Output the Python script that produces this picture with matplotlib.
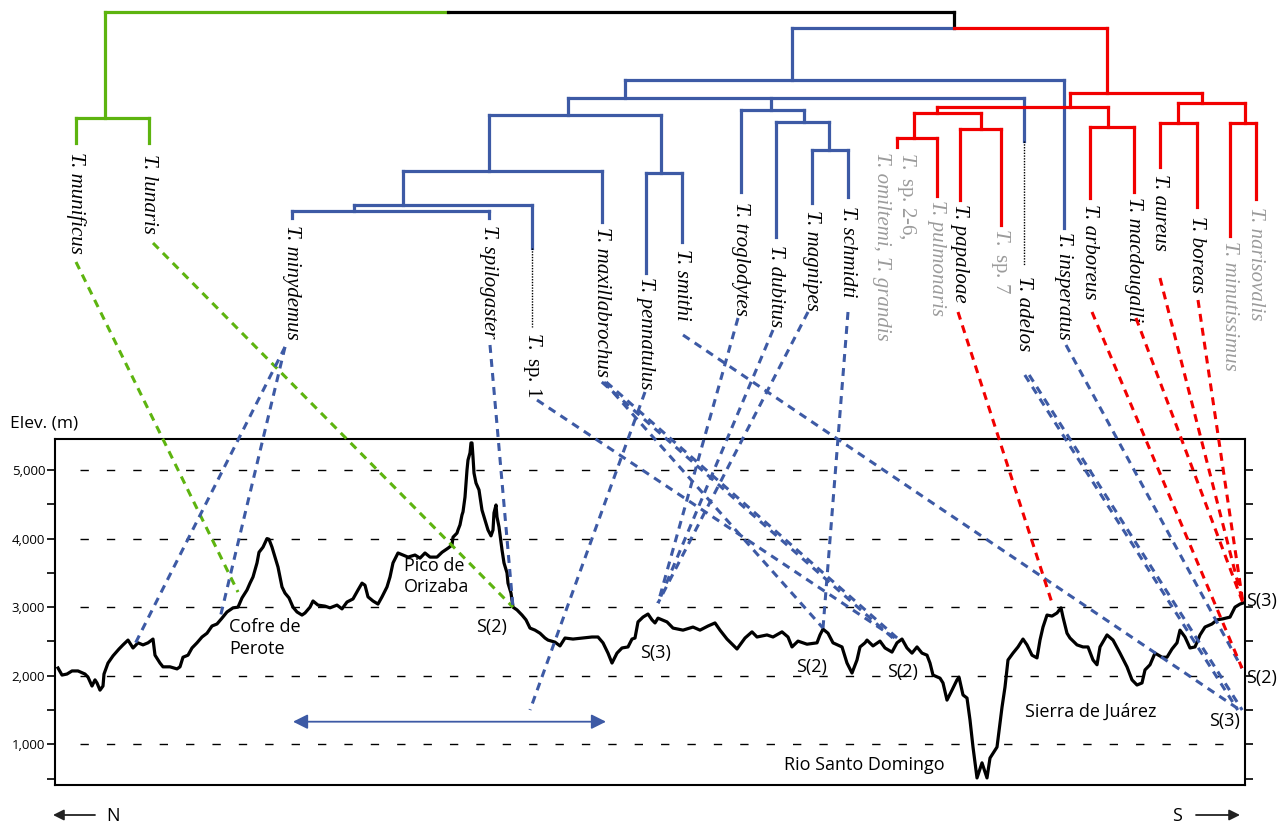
import matplotlib.pyplot as plt
import numpy as np

# Elevation profile (distance along transect, elevation in m)
dist = [3, 7, 12, 17, 23, 30, 33, 37, 40, 42, 45, 48, 49, 53, 58, 64, 68, 73, 78, 83, 88, 93,
        98, 100, 105, 108, 115, 122, 125, 128, 133, 137, 142, 147, 152, 157, 162, 167, 172, 178,
        183, 187, 192, 195, 198, 202, 204, 208, 212, 214, 217, 220, 223, 227, 230, 234, 238, 242,
        247, 250, 255, 258, 263, 270, 275, 282, 287, 292, 298, 303, 307, 310, 313, 318, 323, 327,
        332, 335, 338, 343, 348, 353, 360, 365, 370, 375, 382, 387, 393, 397, 398, 402, 403, 405,
        407, 408, 410, 412, 413, 415, 416, 417, 418, 419, 421, 424, 427, 430, 433, 436, 438, 439,
        441, 442, 444, 447, 449, 452, 453, 456, 458, 462, 467, 471, 475, 480, 485, 490, 493, 500,
        505, 510, 518, 528, 537, 543, 548, 553, 557, 562, 567, 573, 577, 580, 583, 588, 593, 597,
        600, 603, 612, 618, 628, 638, 645, 653, 660, 665, 672, 682, 690, 697, 702, 712, 718, 727,
        733, 737, 743, 752, 762, 765, 768, 773, 778, 787, 792, 797, 802, 805, 810, 812, 818, 825,
        830, 837, 842, 847, 852, 857, 862, 867, 872, 875, 878, 885, 888, 892, 897, 902, 904, 908,
        912, 915, 918, 922, 927, 932, 935, 942, 947, 950, 953, 958, 963, 968, 972, 977, 982, 985,
        988, 992, 997, 1002, 1006, 1008, 1012, 1015, 1022, 1028, 1033, 1038, 1042, 1045, 1052,
        1058, 1065, 1072, 1077, 1082, 1087, 1090, 1095, 1100, 1107, 1112, 1117, 1122, 1125, 1130,
        1135, 1140, 1145, 1150, 1157, 1162, 1168, 1175, 1180, 1185, 1188]
elev = [2113, 2010, 2025, 2070, 2070, 2025, 1980, 1850, 1940, 1895, 1790, 1850, 2025, 2185,
        2290, 2390, 2450, 2520, 2405, 2480, 2450, 2480, 2535, 2300, 2185, 2130, 2130, 2100, 2130,
        2270, 2300, 2405, 2480, 2565, 2620, 2725, 2755, 2840, 2930, 2990, 3000, 3135, 3250, 3350,
        3440, 3645, 3800, 3875, 4000, 3990, 3875, 3730, 3585, 3295, 3205, 3135, 3000, 2930, 2885,
        2915, 3000, 3090, 3030, 3015, 2990, 3030, 2975, 3075, 3120, 3250, 3350, 3320, 3150, 3090,
        3045, 3150, 3295, 3440, 3645, 3790, 3760, 3730, 3760, 3715, 3790, 3730, 3730, 3800, 3860,
        3905, 4020, 4080, 4125, 4200, 4345, 4390, 4605, 5000, 5145, 5250, 5395, 5395, 5190, 4955,
        4810, 4710, 4415, 4270, 4125, 4040, 4125, 4375, 4490, 4315, 4170, 3835, 3645, 3500, 3350,
        3205, 3000, 2960, 2885, 2815, 2695, 2665, 2620, 2550, 2520, 2490, 2435, 2550, 2535, 2550,
        2565, 2565, 2480, 2330, 2185, 2330, 2405, 2420, 2535, 2550, 2785, 2855, 2900, 2815, 2770,
        2840, 2785, 2695, 2665, 2710, 2665, 2725, 2770, 2665, 2535, 2390, 2550, 2640, 2565, 2595,
        2565, 2640, 2565, 2420, 2505, 2460, 2480, 2595, 2680, 2620, 2480, 2420, 2185, 2040, 2230,
        2420, 2480, 2520, 2435, 2505, 2405, 2345, 2480, 2535, 2405, 2330, 2420, 2330, 2300, 2185,
        2010, 1965, 1895, 1645, 1790, 1940, 1980, 1720, 1675, 1355, 960, 510, 730, 510, 800, 960,
        1540, 1835, 2230, 2330, 2420, 2535, 2450, 2300, 2260, 2520, 2710, 2885, 2870, 2915, 2990,
        2855, 2620, 2550, 2450, 2420, 2420, 2230, 2160, 2420, 2595, 2520, 2330, 2130, 1940, 1865,
        1895, 2085, 2160, 2330, 2270, 2270, 2390, 2480, 2665, 2565, 2405, 2420, 2595, 2710, 2755,
        2815, 2830, 2855, 3000, 3045, 3060]

# Sampling sites (distance, elevation) the taxa are linked to
sites = {
    'cofre': (183, 3220), 'min_a': (78, 2405), 'min_b': (165, 2840), 'oriz': (458, 3000),
    's3': (603, 3060), 's2a': (768, 2695), 's2b': (840, 2550), 'pap': (998, 3017),
    'e1': (1188, 3060), 'e2': (1187, 2110), 'e3': (1185, 1500), 'arrow': (475, 1500),
}

blue = '#3D5AA5'
green = '#5DB40F'
red = '#F20000'
gray = '#9B9B9B'

# Tree: (bar height, child x, child end, colour)
clades = [
    (118, [76, 149], [143, 143], green),
    (80, [625, 1064], [98, 228], blue),
    (98, [568, 771, 1024], [115, 110, 141], blue),
    (115, [489, 661], [171, 173], blue),
    (171, [403, 602], [205, 222], blue),
    (205, [354, 532], [211, 248], blue),
    (211, [292, 489], [218, 218], blue),
    (173, [646, 682], [273, 242], blue),
    (110, [741, 804], [192, 122], blue),
    (122, [776, 829], [237, 150], blue),
    (150, [812, 848], [203, 197], blue),
    (93, [1070, 1202], [107, 103], red),
    (107, [937, 1108], [113, 127], red),
    (113, [914, 981], [138, 129], red),
    (138, [897, 937], [147, 196], red),
    (129, [960, 1001], [200, 225], red),
    (127, [1090, 1134], [198, 192], red),
    (103, [1178, 1245], [123, 123], red),
    (123, [1160, 1197], [167, 207], red),
    (123, [1230, 1256], [236, 199], red),
]

# Tip labels: (text, x, top of label, colour)
tips = [
    ('T. munificus', 76, 152, 'k'), ('T. lunaris', 149, 154, 'k'),
    ('T. minydemus', 292, 225, 'k'), ('T. spilogaster', 489, 225, 'k'),
    (r'$\mathit{T.}$ sp. 1', 533, 332, 'k'), ('T. maxillabrochus', 602, 227, 'k'),
    ('T. pennatulus', 646, 277, 'k'), ('T. smithi', 682, 249, 'k'),
    ('T. troglodytes', 741, 202, 'k'), ('T. dubitus', 776, 245, 'k'),
    ('T. magnipes', 812, 210, 'k'), ('T. schmidti', 848, 206, 'k'),
    (r'$\mathit{T.}$ sp. 2-6,', 907, 152, gray), ('T. omiltemi, T. grandis', 882, 152, gray),
    ('T. pulmonaris', 937, 200, gray), ('T. papaloae', 960, 204, 'k'),
    (r'$\mathit{T.}$ sp. 7', 1001, 228, gray), ('T. adelos', 1024, 276, 'k'),
    ('T. insperatus', 1064, 232, 'k'), ('T. arboreus', 1090, 204, 'k'),
    ('T. macdougalli', 1134, 197, 'k'), ('T. aureus', 1160, 174, 'k'),
    ('T. boreas', 1197, 216, 'k'), ('T. minutissimus', 1230, 241, gray),
    ('T. narisovalis', 1256, 207, gray),
]

# Links from taxa to sites: (start x, start y, site, colour, doubled)
links = [
    (76, 262, 'cofre', green, False), (153, 243, 'oriz', green, False),
    (285, 347, 'min_a', blue, False), (285, 347, 'min_b', blue, False),
    (490, 345, 'oriz', blue, False), (537, 400, 's2b', blue, False),
    (604, 382, 's2a', blue, False), (604, 382, 's2b', blue, True),
    (645, 392, 'arrow', blue, False), (683, 335, 'e3', blue, False),
    (738, 318, 's3', blue, False), (773, 330, 's3', blue, False),
    (808, 312, 's3', blue, False), (848, 312, 's2a', blue, False),
    (958, 312, 'pap', red, False), (1027, 375, 'e3', blue, True),
    (1066, 345, 'e2', blue, False), (1092, 312, 'e2', red, False),
    (1136, 318, 'e1', red, False), (1160, 278, 'e1', red, False),
    (1198, 300, 'e1', red, False),
]

notes = [
    ('Cofre de\nPerote', 229, 618), ('Pico de\nOrizaba', 404, 557), ('S(2)', 476, 618),
    ('S(3)', 640, 644), ('S(2)', 796, 658), ('S(2)', 887, 663), ('Rio Santo Domingo', 784, 756),
    ('Sierra de Juárez', 1025, 703), ('S(3)', 1246, 592), ('S(2)', 1246, 669), ('S(3)', 1209, 712),
]

plt.rcParams['mathtext.fontset'] = 'custom'
plt.rcParams['mathtext.it'] = 'Liberation Serif:italic'
plt.rcParams['mathtext.rm'] = 'Liberation Serif'
sans = 'Open Sans'

W, H = 1288, 827
fig = plt.figure(figsize=(W / 100, H / 100), dpi=100, facecolor='white')

# Elevation profile panel
ax = fig.add_axes([55 / W, 1 - 785 / H, 1190 / W, 346 / H])
ax.plot(dist, elev, color='black', lw=2.3, zorder=3)
ax.set_xlim(0, 1190)
ax.set_ylim(407, 5452)
for g in range(1000, 6000, 1000):
    ax.axhline(g, xmin=0.021, xmax=0.986, color='black', lw=1.0, ls=(0, (6, 13)), zorder=1)
ax.set_xticks([])
ax.set_yticks(range(1000, 6000, 1000))
ax.set_yticklabels([f'{v:,}' for v in range(1000, 6000, 1000)], fontfamily=sans, fontsize=9.5)
ax.set_yticks(range(500, 5000, 1000), minor=True)
ax.tick_params(axis='y', which='both', direction='out', length=6, width=1.2, pad=1,
               right=True)
for s in ax.spines.values():
    s.set_linewidth(1.5)

# Overlay for tree, labels and links (pixel layout)
ov = fig.add_axes([0, 0, 1, 1])
ov.set_xlim(0, W)
ov.set_ylim(H, 0)
ov.axis('off')
ov.patch.set_alpha(0)

lw_tree = 2.3
ov.plot([105, 448], [12, 12], color=green, lw=lw_tree, solid_capstyle='projecting')
ov.plot([105, 105], [12, 118], color=green, lw=lw_tree)
ov.plot([448, 954], [12, 12], color='black', lw=lw_tree, solid_capstyle='projecting')
ov.plot([954, 954], [12, 28], color='black', lw=lw_tree)
ov.plot([792, 954], [28, 28], color=blue, lw=lw_tree, solid_capstyle='projecting')
ov.plot([792, 792], [28, 80], color=blue, lw=lw_tree)
ov.plot([954, 1107], [28, 28], color=red, lw=lw_tree, solid_capstyle='projecting')
ov.plot([1107, 1107], [28, 93], color=red, lw=lw_tree)
for bar_y, xs, ends, col in clades:
    ov.plot([min(xs), max(xs)], [bar_y, bar_y], color=col, lw=lw_tree, solid_capstyle='projecting')
    for x, e in zip(xs, ends):
        ov.plot([x, x], [bar_y, e], color=col, lw=lw_tree)

# dotted stems of unplaced taxa
ov.plot([532, 532], [248, 327], color='black', lw=1.0, ls=(0, (1, 1)))
ov.plot([1024, 1024], [141, 265], color='black', lw=1.0, ls=(0, (1, 1)))

for txt, x, y, col in tips:
    style = 'normal' if '$' in txt else 'italic'
    ov.text(x, y, txt, rotation=270, ha='center', va='top', color=col,
            fontfamily='Liberation Serif', fontstyle=style, fontsize=15)

# links from taxa to sites
to_ov = ax.transData + ov.transData.inverted()
for x0, y0, site, col, double in links:
    x1, y1 = to_ov.transform(sites[site])
    offs = [-2.2, 2.2] if double else [0]
    for o in offs:
        ov.plot([x0 + o, x1 + o], [y0, y1], color=col, lw=2.2, ls=(0, (2.6, 2.0)),
                solid_capstyle='butt', zorder=4)

# range arrow
ax.annotate('', xy=(238, 1330), xytext=(551, 1330),
            arrowprops=dict(arrowstyle='<|-|>', color=blue, lw=1.3, mutation_scale=22,
                            shrinkA=0, shrinkB=0))

for txt, x, y in notes:
    ov.text(x, y, txt, ha='left', va='top', fontfamily=sans, fontsize=13, linespacing=1.25)

ov.text(10, 423, 'Elev. (m)', ha='left', va='center', fontfamily=sans, fontsize=12.5)
ov.annotate('', xy=(53, 815), xytext=(95, 815),
            arrowprops=dict(arrowstyle='-|>', color='#222222', lw=1.3, mutation_scale=16,
                            shrinkA=0, shrinkB=0))
ov.text(106, 816, 'N', ha='left', va='center', fontfamily=sans, fontsize=13)
ov.annotate('', xy=(1240, 815), xytext=(1196, 815),
            arrowprops=dict(arrowstyle='-|>', color='#222222', lw=1.3, mutation_scale=16,
                            shrinkA=0, shrinkB=0))
ov.text(1172, 816, 'S', ha='left', va='center', fontfamily=sans, fontsize=13)

fig.savefig('out.png', dpi=100, facecolor='white')
